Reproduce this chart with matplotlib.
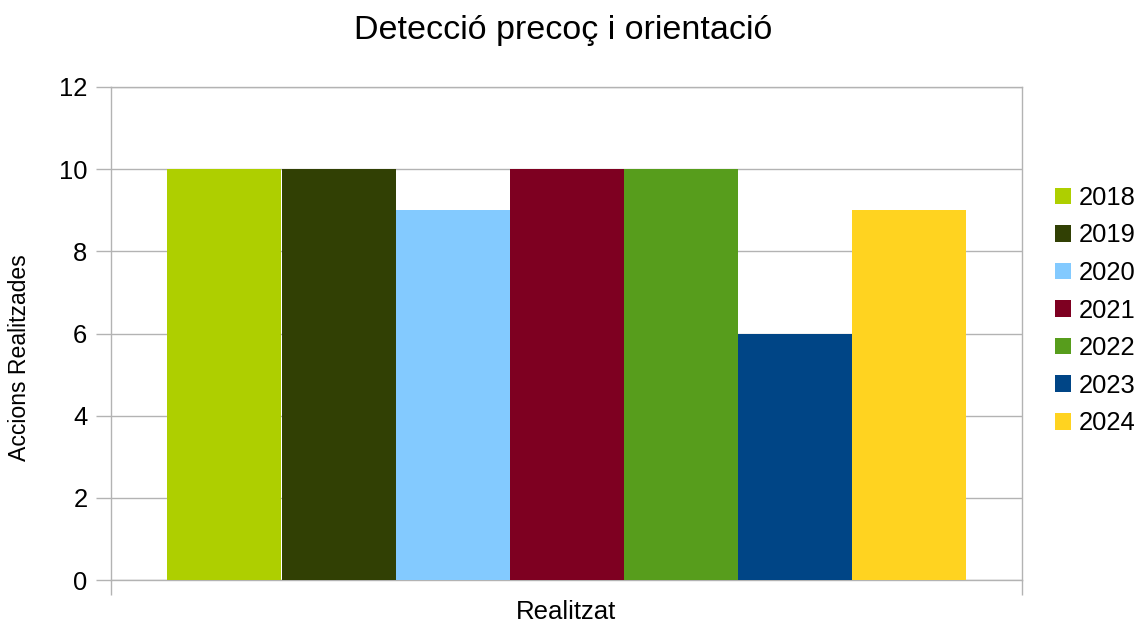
import matplotlib
matplotlib.use("Agg")
import matplotlib.pyplot as plt
import numpy as np

plt.rcParams['font.family'] = ['Liberation Sans', 'DejaVu Sans']

title = "Detecció precoç i orientació"
category = ["Realitzat"]
years = ["2018", "2019", "2020", "2021", "2022", "2023", "2024"]
values = [10, 10, 9, 10, 10, 6, 9]
colors = ["#aecf00", "#314004", "#83caff", "#7e0021", "#579d1c", "#004586", "#ffd320"]
yticks = [0, 2, 4, 6, 8, 10, 12]

W, H = 1136, 626
fig = plt.figure(figsize=(W / 100, H / 100), dpi=100)
ax = fig.add_axes([111 / W, (H - 580) / H, 911 / W, 493 / H])

n = len(years)
bw = 114 / 911
offsets = (np.arange(n) - (n - 1) / 2) * bw
for i in range(n):
    ax.bar(0 + offsets[i], values[i], width=bw, color=colors[i], label=years[i], zorder=3)

ax.set_xlim(-0.5, 0.5)
ax.set_ylim(0, 12)
ax.set_yticks(yticks)
ax.set_yticklabels([str(t) for t in yticks], fontsize=18.4)
ax.set_xticks([-0.5, 0.5])
ax.set_xticklabels(["", ""])
ax.tick_params(axis='x', length=11, color='#b3b3b3', width=1)
ax.tick_params(axis='y', length=11, color='#b3b3b3', width=1, pad=6)
ax.yaxis.grid(True, color='#b3b3b3', linewidth=1, zorder=0)
for s in ax.spines.values():
    s.set_color('#b3b3b3')
    s.set_linewidth(1)

ax.text(0.5, -0.065, category[0], transform=ax.transAxes, ha='center', va='center', fontsize=18.5)
fig.text(20 / W, 1 - 358 / H, "Accions Realitzades", rotation=90, ha='center', va='center', fontsize=16.6)
fig.text(563 / W, 1 - 30 / H, title, ha='center', va='center', fontsize=24.5)

leg = ax.legend(loc='center left', bbox_to_anchor=((1055 - 111) / 911, (580 - 310.5) / 493), frameon=False,
                fontsize=18.4, handlelength=0.63, handleheight=0.63, handletextpad=0.31,
                labelspacing=0.53, borderaxespad=0, borderpad=0)

fig.savefig("out.png", dpi=100)
